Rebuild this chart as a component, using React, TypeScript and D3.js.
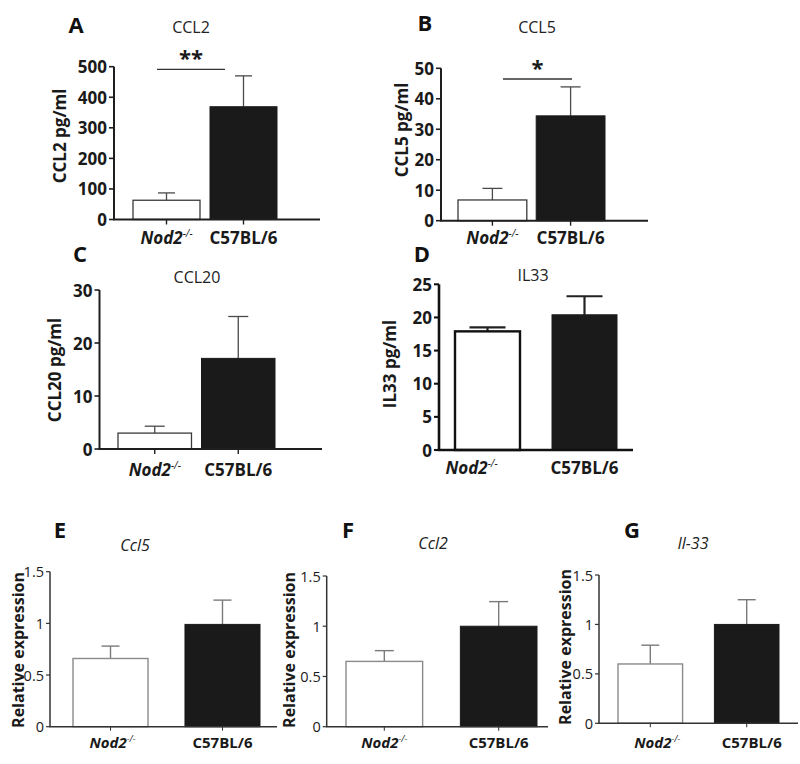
import React from "react";
import * as d3 from "d3";

// ---------- data ----------
const groups = ["Nod2", "C57BL/6"];

const ccl2Protein = [63, 369];
const ccl2ProteinErr = [24, 101];
const ccl5Protein = [6.8, 34.4];
const ccl5ProteinErr = [3.8, 9.5];
const ccl20Protein = [3.0, 17.1];
const ccl20ProteinErr = [1.3, 7.9];
const il33Protein = [17.9, 20.4];
const il33ProteinErr = [0.6, 2.8];

const ccl5Expr = [0.66, 0.99];
const ccl5ExprErr = [0.12, 0.235];
const ccl2Expr = [0.65, 1.0];
const ccl2ExprErr = [0.107, 0.245];
const il33Expr = [0.6, 1.0];
const il33ExprErr = [0.19, 0.25];

const ticksA = [0, 100, 200, 300, 400, 500];
const ticksB = [0, 10, 20, 30, 40, 50];
const ticksC = [0, 10, 20, 30];
const ticksD = [0, 5, 10, 15, 20, 25];
const ticksExpr = [0, 0.5, 1, 1.5];

const FONT = "'Open Sans', 'Noto Sans', sans-serif";

type Style = {
  axisW: number;
  axisC: string;
  outlineW: number;
  outlineC: string;
  errW: number;
  errC: string;
  tickFont: number;
  tickWeight: number;
  tickLen: number;
  xTicks: boolean;
  labelFont: number;
  yLabelFont: number;
};

const topStyle: Style = {
  axisW: 2,
  axisC: "#1e1e1e",
  outlineW: 1.3,
  outlineC: "#3a3a3a",
  errW: 1.3,
  errC: "#4a4a4a",
  tickFont: 17,
  tickWeight: 700,
  tickLen: 5,
  xTicks: true,
  labelFont: 17,
  yLabelFont: 17,
};
const dStyle: Style = {
  ...topStyle,
  axisW: 2.6,
  axisC: "#111",
  outlineW: 2.4,
  outlineC: "#111",
  errW: 2.2,
  errC: "#222",
  xTicks: false,
};
const bottomStyle: Style = {
  axisW: 1.5,
  axisC: "#333",
  outlineW: 1.4,
  outlineC: "#8a8a8a",
  errW: 1.4,
  errC: "#7a7a7a",
  tickFont: 14.5,
  tickWeight: 400,
  tickLen: 4,
  xTicks: true,
  labelFont: 15,
  yLabelFont: 16,
};

type PanelCfg = {
  letter: string;
  letterPos: [number, number];
  title: string;
  titleItalic: boolean;
  titlePos: [number, number];
  yLabel: string;
  yLabelPos: [number, number];
  values: number[];
  errors: number[];
  ticks: number[];
  max: number;
  axisX: number;
  xEnd: number;
  yRange: [number, number];
  xRange: [number, number];
  pad: number;
  capW: number;
  labelY: number;
  labelShift: [number, number];
  sig?: { text: string; y: number; x0: number; x1: number };
  style: Style;
};

const panels: PanelCfg[] = [
  {
    letter: "A", letterPos: [76, 33], title: "CCL2", titleItalic: false, titlePos: [191, 33],
    yLabel: "CCL2 pg/ml", yLabelPos: [59, 136],
    values: ccl2Protein, errors: ccl2ProteinErr, ticks: ticksA, max: 500,
    axisX: 114, xEnd: 320, yRange: [219.5, 66.7], xRange: [133, 277], pad: 0.13, capW: 17,
    labelY: 244, labelShift: [0, 0],
    sig: { text: "**", y: 69.3, x0: 157, x1: 225 },
    style: topStyle,
  },
  {
    letter: "B", letterPos: [425, 31], title: "CCL5", titleItalic: false, titlePos: [537, 33],
    yLabel: "CCL5 pg/ml", yLabelPos: [401, 130],
    values: ccl5Protein, errors: ccl5ProteinErr, ticks: ticksB, max: 50,
    axisX: 441, xEnd: 648, yRange: [220.7, 68.3], xRange: [458, 605], pad: 0.12, capW: 20,
    labelY: 244, labelShift: [0, 0],
    sig: { text: "*", y: 79, x0: 503, x1: 572 },
    style: topStyle,
  },
  {
    letter: "C", letterPos: [80, 262], title: "CCL20", titleItalic: false, titlePos: [197, 283],
    yLabel: "CCL20 pg/ml", yLabelPos: [54, 370],
    values: ccl20Protein, errors: ccl20ProteinErr, ticks: ticksC, max: 30,
    axisX: 99.5, xEnd: 322, yRange: [449, 290], xRange: [118, 275], pad: 0.12, capW: 20,
    labelY: 476, labelShift: [0, 0],
    style: topStyle,
  },
  {
    letter: "D", letterPos: [422, 262], title: "IL33", titleItalic: false, titlePos: [533, 281],
    yLabel: "IL33 pg/ml", yLabelPos: [389, 364],
    values: il33Protein, errors: il33ProteinErr, ticks: ticksD, max: 25,
    axisX: 439, xEnd: 633, yRange: [450, 284.3], xRange: [455, 617], pad: 0.33, capW: 36,
    labelY: 474, labelShift: [-16, 0],
    style: dStyle,
  },
  {
    letter: "E", letterPos: [60, 538], title: "Ccl5", titleItalic: true, titlePos: [135, 551],
    yLabel: "Relative expression", yLabelPos: [18, 650],
    values: ccl5Expr, errors: ccl5ExprErr, ticks: ticksExpr, max: 1.5,
    axisX: 50, xEnd: 277, yRange: [726.7, 571.7], xRange: [73, 260], pad: 0.33, capW: 18,
    labelY: 748, labelShift: [2, 0],
    style: bottomStyle,
  },
  {
    letter: "F", letterPos: [348, 538], title: "Ccl2", titleItalic: true, titlePos: [433, 549],
    yLabel: "Relative expression", yLabelPos: [289, 650],
    values: ccl2Expr, errors: ccl2ExprErr, ticks: ticksExpr, max: 1.5,
    axisX: 326.7, xEnd: 548, yRange: [726.7, 576], xRange: [346, 537], pad: 0.33, capW: 19,
    labelY: 748, labelShift: [0, 0],
    style: bottomStyle,
  },
  {
    letter: "G", letterPos: [632, 538], title: "Il-33", titleItalic: true, titlePos: [693, 549],
    yLabel: "Relative expression", yLabelPos: [565, 647],
    values: il33Expr, errors: il33ExprErr, ticks: ticksExpr, max: 1.5,
    axisX: 599, xEnd: 798, yRange: [723.3, 575], xRange: [618, 779], pad: 0.33, capW: 18,
    labelY: 748, labelShift: [7, 5],
    style: bottomStyle,
  },
];

function BarPanel({ p }: { p: PanelCfg }) {
  const s = p.style;
  const y = d3.scaleLinear().domain([0, p.max]).range(p.yRange);
  const x = d3.scaleBand<string>().domain(groups).range(p.xRange).paddingInner(p.pad).paddingOuter(0);
  const bw = x.bandwidth();
  const y0 = y(0);
  return (
    <g>
      <text x={p.letterPos[0]} y={p.letterPos[1]} fontSize={22} fontWeight={700} textAnchor="middle" fill="#111">
        {p.letter}
      </text>
      <text x={p.titlePos[0]} y={p.titlePos[1]} fontSize={16} fontStyle={p.titleItalic ? "italic" : "normal"} textAnchor="middle" fill="#222">
        {p.title}
      </text>
      <text
        transform={`translate(${p.yLabelPos[0]},${p.yLabelPos[1]}) rotate(-90)`}
        fontSize={s.yLabelFont}
        fontWeight={700}
        textAnchor="middle"
        dominantBaseline="central"
        fill="#1a1a1a"
      >
        {p.yLabel}
      </text>
      {groups.map((g, i) => {
        const v = p.values[i];
        const e = p.errors[i];
        const bx = x(g) as number;
        const cx = bx + bw / 2;
        const top = y(v);
        const et = y(v + e);
        const white = i === 0;
        return (
          <g key={g}>
            <line x1={cx} x2={cx} y1={top} y2={et} stroke={s.errC} strokeWidth={s.errW} />
            <line x1={cx - p.capW / 2} x2={cx + p.capW / 2} y1={et} y2={et} stroke={s.errC} strokeWidth={s.errW} />
            <rect
              x={bx}
              y={top}
              width={bw}
              height={y0 - top}
              fill={white ? "#fff" : "#1a1a1a"}
              stroke={white ? s.outlineC : "#1a1a1a"}
              strokeWidth={white ? s.outlineW : 1}
            />
            {s.xTicks && (
              <line x1={cx} x2={cx} y1={y0} y2={y0 + s.tickLen} stroke={s.axisC} strokeWidth={s.axisW * 0.7} />
            )}
          </g>
        );
      })}
      <line x1={p.axisX} x2={p.axisX} y1={y(p.max)} y2={y0} stroke={s.axisC} strokeWidth={s.axisW} />
      {p.ticks.map((t) => (
        <g key={t}>
          <line x1={p.axisX - s.tickLen} x2={p.axisX} y1={y(t)} y2={y(t)} stroke={s.axisC} strokeWidth={s.axisW * 0.8} />
          <text
            x={p.axisX - s.tickLen - 2}
            y={y(t)}
            fontSize={s.tickFont}
            fontWeight={s.tickWeight}
            textAnchor="end"
            dominantBaseline="central"
            fill="#1a1a1a"
          >
            {String(t)}
          </text>
        </g>
      ))}
      <line x1={p.axisX - s.axisW / 2} x2={p.xEnd} y1={y0} y2={y0} stroke={s.axisC} strokeWidth={s.axisW} />
      {groups.map((g, i) => {
        const cx = (x(g) as number) + bw / 2 + p.labelShift[i];
        return i === 0 ? (
          <text key={g} x={cx} y={p.labelY} fontSize={s.labelFont} fontWeight={700} textAnchor="middle" fill="#1a1a1a">
            <tspan fontStyle="italic">{g}</tspan>
            <tspan fontSize={s.labelFont * 0.6} dy={-s.labelFont * 0.4} fontStyle="italic" fontWeight={400}>
              -/-
            </tspan>
          </text>
        ) : (
          <text key={g} x={cx} y={p.labelY} fontSize={s.labelFont} fontWeight={700} textAnchor="middle" fill="#1a1a1a">
            {g}
          </text>
        );
      })}
      {p.sig && (
        <g>
          <line x1={p.sig.x0} x2={p.sig.x1} y1={p.sig.y} y2={p.sig.y} stroke="#333" strokeWidth={1.3} />
          <text x={(p.sig.x0 + p.sig.x1) / 2} y={p.sig.y - 3} fontSize={22} fontWeight={700} textAnchor="middle" fill="#1a1a1a">
            {p.sig.text}
          </text>
        </g>
      )}
    </g>
  );
}

export default function App() {
  return (
    <div style={{ position: "absolute", left: 0, top: 0 }}>
      <svg width={800} height={764} fontFamily={FONT} style={{ display: "block", background: "#fff" }}>
        <rect width={800} height={764} fill="#fff" />
        {panels.map((p) => (
          <BarPanel key={p.letter} p={p} />
        ))}
      </svg>
    </div>
  );
}
